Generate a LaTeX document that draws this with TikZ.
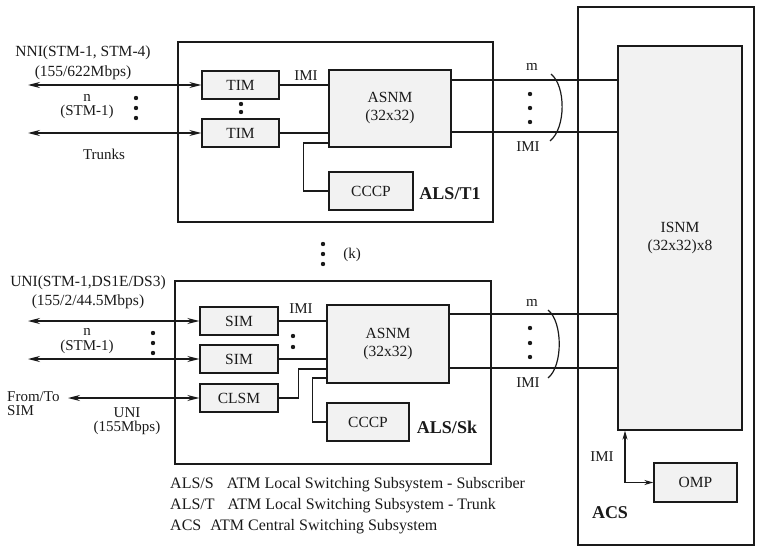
\documentclass[tikz,border=0pt]{standalone}
\usepackage{fontspec}
\setmainfont{Liberation Serif}
\usepackage{xcolor}
\usepackage{tikz}
\usetikzlibrary{arrows.meta,positioning,calc}
\definecolor{ink}{HTML}{1A1A1A}
\definecolor{stipple}{HTML}{F2F2F2}
\tikzset{
  >={Stealth[length=12pt,width=6pt]},
  lbl/.style={font=\fontsize{15}{18}\selectfont, text=ink, inner sep=0pt, align=center},
  unit/.style={
    draw=ink, line width=1.3pt, fill=stipple, inner sep=0pt,
    font=\fontsize{15.5}{18}\selectfont, text=ink, align=center
  },
  subsys/.style={draw=ink, line width=2.2pt, inner sep=0pt},
  sysname/.style={font=\fontsize{18}{20}\selectfont\bfseries, text=ink, inner sep=0pt},
  link/.style={draw=ink, line width=1.3pt},
  port/.style={<->, draw=ink, line width=1.3pt},
  legend/.style={font=\fontsize{16}{18}\selectfont, text=ink, inner sep=0pt, anchor=west}
}

\begin{document}
\begin{tikzpicture}[x=1pt,y=-1pt]
  \useasboundingbox (0,0) rectangle (760,551);

  % subsystems
  \node[subsys, minimum width=315pt, minimum height=180pt] (alst) at (335.5,132) {};
  \node[subsys, minimum width=316pt, minimum height=183pt] (alss) at (333,372.5) {};
  \node[subsys, minimum width=176pt, minimum height=538pt] (acs)  at (666,276) {};

  % ALS/T1
  \node[unit, minimum width=77pt, minimum height=28pt]  (tim1)  at (240.5,85)  {TIM};
  \node[unit, minimum width=77pt, minimum height=28pt]  (tim2)  at (240.5,133) {TIM};
  \node[unit, minimum width=122pt, minimum height=77pt] (asnm1) at (390,108.5) {ASNM\\(32x32)};
  \node[unit, minimum width=84pt, minimum height=38pt]  (cccp1) at (371,191)   {CCCP};
  \node[sysname] (alstname) at (450,194) {ALS/T1};

  % ALS/Sk
  \node[unit, minimum width=78pt, minimum height=28pt]  (sim1)  at (239,321) {SIM};
  \node[unit, minimum width=78pt, minimum height=28pt]  (sim2)  at (239,359) {SIM};
  \node[unit, minimum width=78pt, minimum height=28pt]  (clsm)  at (239,398) {CLSM};
  \node[unit, minimum width=122pt, minimum height=78pt] (asnm2) at (388,344) {ASNM\\(32x32)};
  \node[unit, minimum width=82pt, minimum height=38pt]  (cccp2) at (368,422) {CCCP};
  \node[sysname] (alssname) at (447,427) {ALS/Sk};

  % ACS
  \node[unit, minimum width=124pt, minimum height=384pt] (isnm) at (680,238) {ISNM\\(32x32)x8};
  \node[unit, minimum width=83pt, minimum height=39pt]   (omp)  at (695.5,482.5) {OMP};
  \node[sysname] (acsname) at (610,513) {ACS};
  \node[lbl] (imiomp) at (602,457) {IMI};

  % outside ends
  \coordinate (nni1) at (28,85);
  \coordinate (nni2) at (28,133);
  \coordinate (uni1) at (28,321);
  \coordinate (uni2) at (28,359);
  \coordinate (uni3) at (68,398);

  % labels
  \node[lbl, font=\fontsize{15.5}{20}\selectfont] (nnilbl) at (83,63) {NNI(STM-1, STM-4)\\(155/622Mbps)};
  \node[lbl, font=\fontsize{15}{14}\selectfont] (ntop) at (87,107) {n\\(STM-1)};
  \node[lbl] (trunks) at (104,154) {Trunks};
  \node[lbl] (imit) at (306,76) {IMI};
  \node[lbl, font=\fontsize{15.5}{19}\selectfont] (unilbl) at (88,292.5) {UNI(STM-1,DS1E/DS3)\\(155/2/44.5Mbps)};
  \node[lbl, font=\fontsize{15}{15}\selectfont] (nbot) at (87,341) {n\\(STM-1)};
  \node[lbl, font=\fontsize{15}{14}\selectfont, align=left, anchor=west] (fromto) at (7,404) {From/To\\SIM};
  \node[lbl, font=\fontsize{15}{14}\selectfont] (unisub) at (127,421) {UNI\\(155Mbps)};
  \node[lbl] (imis) at (301,309) {IMI};
  \node[lbl] (kcount) at (352,255) {(k)};

  % trunk side
  \draw[port] (nni1) -- (tim1.west);
  \draw[port] (nni2) -- (tim2.west);
  \draw[link] (tim1.east) -- (tim1 -| asnm1.west);
  \draw[link] (tim2.east) -- (tim2 -| asnm1.west);
  \draw[link] (asnm1.west |- 0,143) -- ++(-25,0) |- (cccp1.west);

  % subscriber side
  \draw[port] (uni1) -- (sim1.west);
  \draw[port] (uni2) -- (sim2.west);
  \draw[port] (uni3) -- (clsm.west);
  \draw[link] (sim1.east) -- (sim1 -| asnm2.west);
  \draw[link] (sim2.east) -- (sim2 -| asnm2.west);
  \draw[link] (clsm.east) -- ++(20,0) |- (asnm2.west |- 0,369);
  \draw[link] (asnm2.west |- 0,378) -- ++(-14,0) |- (cccp2.west);

  % to ISNM
  \draw[link] (asnm1.east |- 0,80)  -- (isnm.west |- 0,80);
  \draw[link] (asnm1.east |- 0,132) -- (isnm.west |- 0,132);
  \draw[link] (asnm2.east |- 0,314) -- (isnm.west |- 0,314);
  \draw[link] (asnm2.east |- 0,368) -- (isnm.west |- 0,368);
  \node[lbl] (mtop) at (532,67)  {m};
  \node[lbl] (imitop) at (528,147) {IMI};
  \node[lbl] (mbot) at (532,303) {m};
  \node[lbl] (imibot) at (528,383) {IMI};
  \draw[ink, line width=1.2pt] (551,74) .. controls (566,86) and (566,128) .. (550,141);
  \draw[ink, line width=1.2pt] (548,310) .. controls (563,322) and (563,366) .. (548,378);

  % OMP
  \draw[<->, link, >={Stealth[length=9pt,width=5pt]}] (isnm.south -| 625,0) |- (omp.west);

  % dots
  \foreach \y in {98,108,118} \fill[ink] (136,\y) circle (2.2pt);
  \foreach \y in {104,112} \fill[ink] (241,\y) circle (2.2pt);
  \foreach \y in {94,108,122} \fill[ink] (530,\y) circle (2.2pt);
  \foreach \y in {244,254,264} \fill[ink] (323,\y) circle (2.2pt);
  \foreach \y in {333,343,353} \fill[ink] (153,\y) circle (2.2pt);
  \foreach \y in {336,347} \fill[ink] (293,\y) circle (2.2pt);
  \foreach \y in {328,343,357} \fill[ink] (530,\y) circle (2.2pt);

  % legend
  \node[legend] (leg1) at (170,485) {ALS/S\hspace{13pt}ATM Local Switching Subsystem - Subscriber};
  \node[legend] (leg2) at (170,506) {ALS/T\hspace{13pt}ATM Local Switching Subsystem - Trunk};
  \node[legend] (leg3) at (170,527) {ACS\hspace{9pt}ATM Central Switching Subsystem};
\end{tikzpicture}
\end{document}
